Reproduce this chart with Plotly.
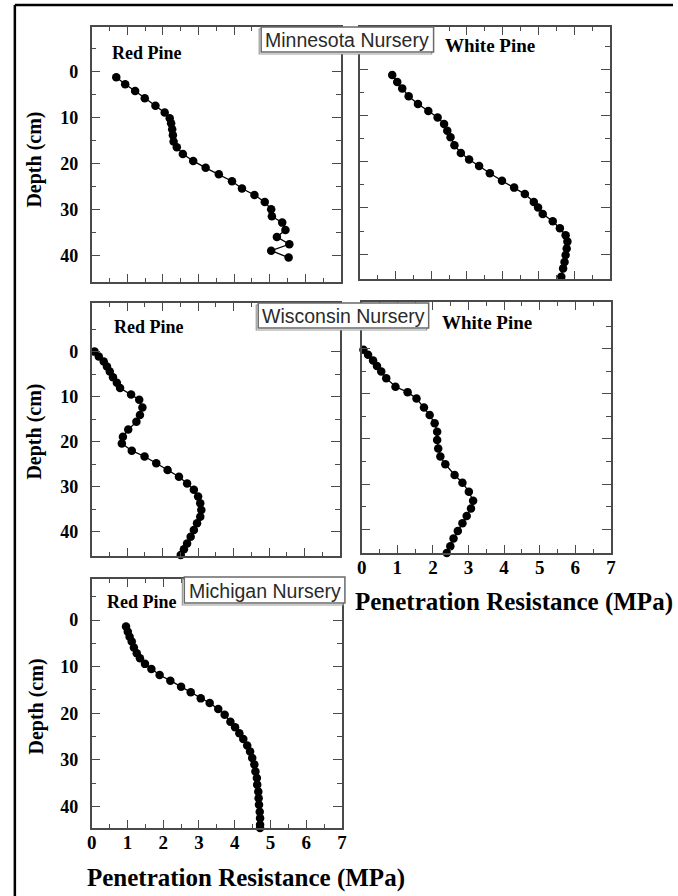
import plotly.graph_objects as go

# ---------------- data (penetration resistance MPa, depth cm) ----------------
mn_red_x = [0.69, 0.94, 1.22, 1.49, 1.79, 2.05, 2.19, 2.23, 2.26, 2.28, 2.30, 2.39, 2.56, 2.85,
            3.20, 3.57, 3.94, 4.22, 4.57, 4.86, 5.04, 5.06, 5.35, 5.44, 5.20, 5.55, 5.04, 5.53]
mn_red_d = [1.2, 2.75, 4.2, 5.8, 7.4, 8.9, 10.1, 11.2, 12.5, 13.8, 15.2, 16.4, 17.9, 19.4,
            20.9, 22.3, 23.8, 25.4, 26.8, 28.3, 29.9, 31.4, 32.8, 34.4, 35.9, 37.5, 38.9, 40.4]

mn_white_x = [0.91, 1.05, 1.19, 1.37, 1.63, 1.92, 2.18, 2.36, 2.45, 2.54, 2.65, 2.83, 3.06, 3.34,
              3.64, 3.98, 4.32, 4.62, 4.87, 4.99, 5.12, 5.40, 5.60, 5.76, 5.81, 5.79, 5.76, 5.73,
              5.69, 5.64]
mn_white_d = [1.2, 2.7, 4.1, 5.8, 7.5, 9.0, 10.4, 11.8, 13.3, 14.7, 16.4, 18.1, 19.5, 20.9,
              22.5, 24.1, 25.6, 27.0, 28.7, 29.9, 31.3, 32.9, 34.4, 35.9, 37.3, 38.8, 40.2, 41.7,
              43.1, 44.9]

wi_red_x = [0.08, 0.20, 0.34, 0.43, 0.51, 0.60, 0.71, 0.80, 1.11, 1.34, 1.43, 1.36, 1.26, 1.03,
            0.88, 0.85, 1.13, 1.49, 1.82, 2.14, 2.46, 2.69, 2.88, 3.00, 3.06, 3.09, 3.06, 2.97,
            2.88, 2.79, 2.69, 2.60, 2.51]
wi_red_d = [0.0, 1.1, 2.2, 3.3, 4.4, 5.7, 6.9, 8.1, 9.5, 10.7, 12.4, 14.1, 15.6, 17.3,
            18.9, 20.4, 22.0, 23.3, 24.8, 26.3, 27.8, 29.3, 30.7, 32.2, 33.7, 35.2, 36.7, 38.1,
            39.6, 41.1, 42.6, 43.9, 45.2]

wi_white_x = [0.05, 0.18, 0.32, 0.43, 0.55, 0.69, 0.95, 1.29, 1.54, 1.75, 1.91, 2.05, 2.12, 2.12,
              2.15, 2.21, 2.35, 2.61, 2.83, 3.01, 3.13, 3.07, 2.95, 2.83, 2.70, 2.58, 2.49, 2.39]
wi_white_d = [0.2, 1.3, 2.6, 3.8, 5.0, 6.5, 8.4, 9.6, 11.0, 13.0, 14.7, 16.5, 18.4, 20.2,
              22.1, 23.9, 25.6, 28.0, 29.7, 31.7, 33.7, 35.4, 37.1, 38.7, 40.4, 42.1, 43.8, 45.3]

mi_red_x = [0.96, 1.01, 1.06, 1.12, 1.18, 1.26, 1.35, 1.49, 1.67, 1.90, 2.20, 2.50, 2.77, 3.05,
            3.30, 3.54, 3.72, 3.88, 4.01, 4.13, 4.24, 4.35, 4.43, 4.49, 4.55, 4.58, 4.62, 4.63,
            4.66, 4.67, 4.68, 4.70, 4.71, 4.71, 4.71]
mi_red_d = [1.4, 2.5, 3.6, 4.6, 5.9, 7.1, 8.2, 9.4, 10.5, 11.8, 13.0, 14.3, 15.5, 16.8,
            17.8, 19.1, 20.3, 21.8, 23.0, 24.3, 25.5, 26.9, 28.2, 29.6, 31.0, 32.5, 33.9, 35.3,
            36.8, 38.2, 39.6, 41.1, 42.5, 43.9, 44.6]

x_ticks = [0, 1, 2, 3, 4, 5, 6, 7]
y_ticks = [0, 10, 20, 30, 40]

panel_titles = ["Minnesota Nursery", "Wisconsin Nursery", "Michigan Nursery"]
species = ["Red Pine", "White Pine"]
x_title = "Penetration Resistance (MPa)"
y_title = "Depth (cm)"

# ---------------- layout helpers (pixel geometry) ----------------
W, H = 678, 896


def px(x):
    return x / W


def py(y):
    return 1 - y / H


# panel: (x0, x1, top, bottom, depth_top, depth_bottom, show_x_labels, show_y_labels)
panels = [
    (88, 341, 27, 282, -9.7, 45.7, False, True),
    (360, 614, 27, 279, -9.2, 45.4, False, False),
    (88, 340, 303, 556, -10.8, 45.4, False, True),
    (362, 615, 302, 553, -10.4, 45.3, True, False),
    (88, 342, 579, 828, -8.8, 44.6, True, True),
]
series = [
    (mn_red_x, mn_red_d),
    (mn_white_x, mn_white_d),
    (wi_red_x, wi_red_d),
    (wi_white_x, wi_white_d),
    (mi_red_x, mi_red_d),
]

SERIF = "Liberation Serif"
SANS = "Liberation Sans"
AXC = "#4a4a4a"

fig = go.Figure()
layout = dict(
    width=W, height=H, autosize=False,
    margin=dict(l=0, r=0, t=0, b=0),
    paper_bgcolor="white", plot_bgcolor="white",
    showlegend=False,
)

for i, ((x0, x1, top, bot, dtop, dbot, showx, showy), (sx, sd)) in enumerate(zip(panels, series)):
    n = "" if i == 0 else str(i + 1)
    fig.add_trace(go.Scatter(
        x=sx, y=sd, mode="lines+markers",
        line=dict(color="black", width=1.3),
        marker=dict(color="black", size=8.5),
        cliponaxis=False,
        xaxis="x" + n, yaxis="y" + n,
    ))
    layout["xaxis" + n] = dict(
        domain=[px(x0), px(x1)], anchor="y" + n, range=[0, 7],
        tickmode="array", tickvals=x_ticks, ticktext=[str(v) for v in x_ticks],
        ticks="inside", ticklen=8, tickwidth=1.2, tickcolor=AXC,
        minor=dict(tickvals=[v + 0.5 for v in x_ticks[:-1]], ticks="inside", ticklen=4,
                   tickwidth=1, tickcolor=AXC),
        showline=True, linecolor=AXC, linewidth=1.5, mirror="ticks",
        showgrid=False, zeroline=False,
        showticklabels=showx, ticklabelstandoff=-4,
        tickfont=dict(family=SERIF, size=19, color="black", weight="bold"),
    )
    layout["yaxis" + n] = dict(
        domain=[py(bot), py(top)], anchor="x" + n, range=[dbot, dtop],
        tickmode="array", tickvals=y_ticks, ticktext=[str(v) for v in y_ticks],
        ticks="inside", ticklen=9, tickwidth=1.2, tickcolor=AXC,
        minor=dict(tickvals=[-5, 5, 15, 25, 35], ticks="inside", ticklen=5,
                   tickwidth=1, tickcolor=AXC),
        showline=True, linecolor=AXC, linewidth=1.5, mirror="ticks",
        showgrid=False, zeroline=False,
        showticklabels=showy, ticklabelstandoff=8,
        tickfont=dict(family=SERIF, size=18, color="black", weight="bold"),
    )

annotations = []
shapes = []


def text(x, y, s, size, family=SERIF, bold=True, angle=0, color="black"):
    annotations.append(dict(
        x=px(x), y=py(y), xref="paper", yref="paper", text=s, showarrow=False,
        xanchor="center", yanchor="middle", textangle=angle,
        font=dict(family=family, size=size, color=color, weight="bold" if bold else "normal"),
    ))


# species labels
text(144, 53, species[0], 18)
text(492, 45, species[1], 19)
text(146, 327, species[0], 18)
text(489, 322, species[1], 19)
text(139, 602, species[0], 18)

# depth titles
text(29, 160, y_title, 20, angle=-90)
text(29, 432, y_title, 20, angle=-90)
text(31, 707, y_title, 20, angle=-90)

# x-axis titles
text(517, 602, x_title, 25)
text(245, 878, x_title, 25)

# nursery boxes
boxes = [(260, 435, 27, 52), (257, 430, 303, 328), (182, 345, 577, 603)]
for (bx0, bx1, by0, by1), t in zip(boxes, panel_titles):
    shapes.append(dict(type="rect", xref="paper", yref="paper", layer="above",
                       x0=px(bx0 - 2), x1=px(bx1 - 2), y0=py(by1 + 2), y1=py(by0 + 2),
                       line=dict(color="#9a9a9a", width=1.2), fillcolor="white"))
    shapes.append(dict(type="rect", xref="paper", yref="paper", layer="above",
                       x0=px(bx0), x1=px(bx1), y0=py(by1), y1=py(by0),
                       line=dict(color="#6a6a6a", width=1.5), fillcolor="white"))
    text((bx0 + bx1) / 2, (by0 + by1) / 2 + 0.5, t, 19.5, family=SANS, bold=False, color="#2a2a2a")

# outer frame (top and left edges)
shapes.append(dict(type="line", xref="paper", yref="paper", x0=px(10), x1=1, y0=py(5), y1=py(5),
                   line=dict(color="black", width=2.5)))
shapes.append(dict(type="line", xref="paper", yref="paper", x0=px(10), x1=px(10), y0=py(5), y1=0,
                   line=dict(color="black", width=2.5)))

layout["annotations"] = annotations
layout["shapes"] = shapes
fig.update_layout(**layout)
fig.write_html("out.html")
